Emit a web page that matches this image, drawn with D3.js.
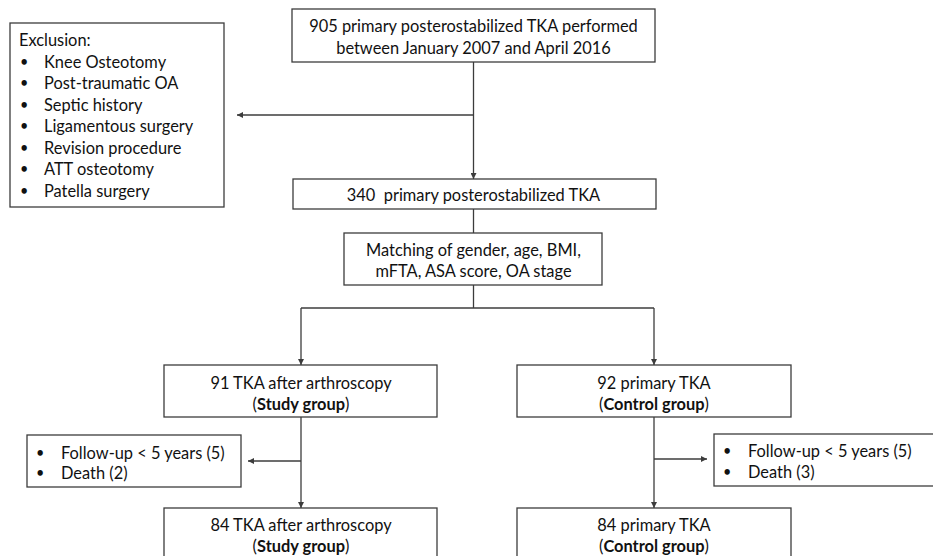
<!DOCTYPE html>
<html><head><meta charset="utf-8">
<script src="https://cdn.jsdelivr.net/npm/d3@7"></script>
<style>body{margin:0;background:#fff}svg{display:block}text{white-space:pre}</style>
</head><body>
<script>
// ---- content data ----
const topLines = ["905 primary posterostabilized TKA performed", "between January 2007 and April 2016"];
const exclusionTitle = "Exclusion:";
const exclusionItems = ["Knee Osteotomy","Post-traumatic OA","Septic history","Ligamentous surgery","Revision procedure","ATT osteotomy","Patella surgery"];
const afterExclusion = ["340  primary posterostabilized TKA"];
const matchingLines = ["Matching of gender, age, BMI,", "mFTA, ASA score, OA stage"];
const groups = ["Study group", "Control group"];
const initialCounts = [91, 92];
const initialLabels = ["TKA after arthroscopy", "primary TKA"];
const lossFollowUp = [5, 5];
const lossDeath = [2, 3];
const finalCounts = [84, 84];

// ---- layout ----
const W = 933, H = 556;
const font = "Lato, 'Open Sans', sans-serif";
const fs = 16.4;
const ink = "#111";
const lineC = "#3c3c3c";
const svg = d3.select("body").append("svg").attr("width", W).attr("height", H);
svg.append("defs").append("marker").attr("id","ah").attr("viewBox","0 0 10 10")
  .attr("refX",10).attr("refY",5).attr("markerWidth",6).attr("markerHeight",6)
  .attr("markerUnits","userSpaceOnUse").attr("orient","auto")
  .append("path").attr("d","M0,0L10,5L0,10Z").attr("fill",lineC);

function box(x0,y0,x1,y1){
  svg.append("rect").attr("x",x0).attr("y",y0).attr("width",x1-x0).attr("height",y1-y0)
    .attr("fill","#fff").attr("stroke",lineC).attr("stroke-width",1.3);
}
function centered(cx, ys, lines, bold){
  lines.forEach((t,i)=>{
    const el = svg.append("text").attr("x",cx).attr("y",ys[i]).attr("text-anchor","middle")
      .attr("dominant-baseline","central").attr("font-family",font).attr("font-size",fs).attr("fill",ink);
    if (bold && bold[i]) {
      el.append("tspan").text("(");
      el.append("tspan").attr("font-weight","bold").text(bold[i]);
      el.append("tspan").text(")");
    } else el.text(t);
  });
}
function bullets(bx, tx, ys, items){
  items.forEach((t,i)=>{
    svg.append("text").attr("x",bx).attr("y",ys[i]).attr("dominant-baseline","central")
      .attr("font-family",font).attr("font-size",fs-2).attr("fill",ink).text("•");
    svg.append("text").attr("x",tx).attr("y",ys[i]).attr("dominant-baseline","central")
      .attr("font-family",font).attr("font-size",fs).attr("fill",ink).text(t);
  });
}
function line(pts, arrow){
  svg.append("path").attr("d", d3.line()(pts)).attr("fill","none").attr("stroke",lineC)
    .attr("stroke-width",1.3).attr("marker-end", arrow ? "url(#ah)" : null);
}

// connectors
const cxMain = 473.5;
line([[cxMain,62],[cxMain,179]], true);
line([[cxMain,115],[237,115]], true);
line([[cxMain,209],[cxMain,233]]);
line([[cxMain,285],[cxMain,308]]);
const gx = [301, 654];
line([[gx[0],308],[gx[1],308]]);
gx.forEach(x=>{ line([[x,308],[x,365]], true); line([[x,417],[x,508]], true); });
line([[gx[0],461],[248,461]], true);
line([[gx[1],459],[707,459]], true);

// top box
box(292,9,655,62);
centered(cxMain,[25,47],topLines);
// exclusion
box(10,23,224,207);
svg.append("text").attr("x",19).attr("y",39).attr("dominant-baseline","central")
  .attr("font-family",font).attr("font-size",fs).attr("fill",ink).text(exclusionTitle);
bullets(20,44, exclusionItems.map((d,i)=>61+i*21.5), exclusionItems);
// 340 box
box(293,179,656,209);
centered(cxMain,[194.5],afterExclusion);
// matching
box(344,233,602,285);
centered(cxMain,[249,270],matchingLines);
// group boxes
const gb = [[164,437],[517,791]];
groups.forEach((g,i)=>{
  box(gb[i][0],365,gb[i][1],417);
  centered(gx[i],[382,403],[initialCounts[i]+" "+initialLabels[i], ""],[null,g]);
  box(gb[i][0],508,gb[i][1],580);
  centered(gx[i],[524,545],[finalCounts[i]+" "+initialLabels[i], ""],[null,g]);
});
// loss boxes
box(27,435,241,487);
bullets(36,61,[452,472],["Follow-up < 5 years ("+lossFollowUp[0]+")","Death ("+lossDeath[0]+")"]);
box(714,434,945,486);
bullets(723,748,[450,471],["Follow-up < 5 years ("+lossFollowUp[1]+")","Death ("+lossDeath[1]+")"]);
</script>
</body></html>
